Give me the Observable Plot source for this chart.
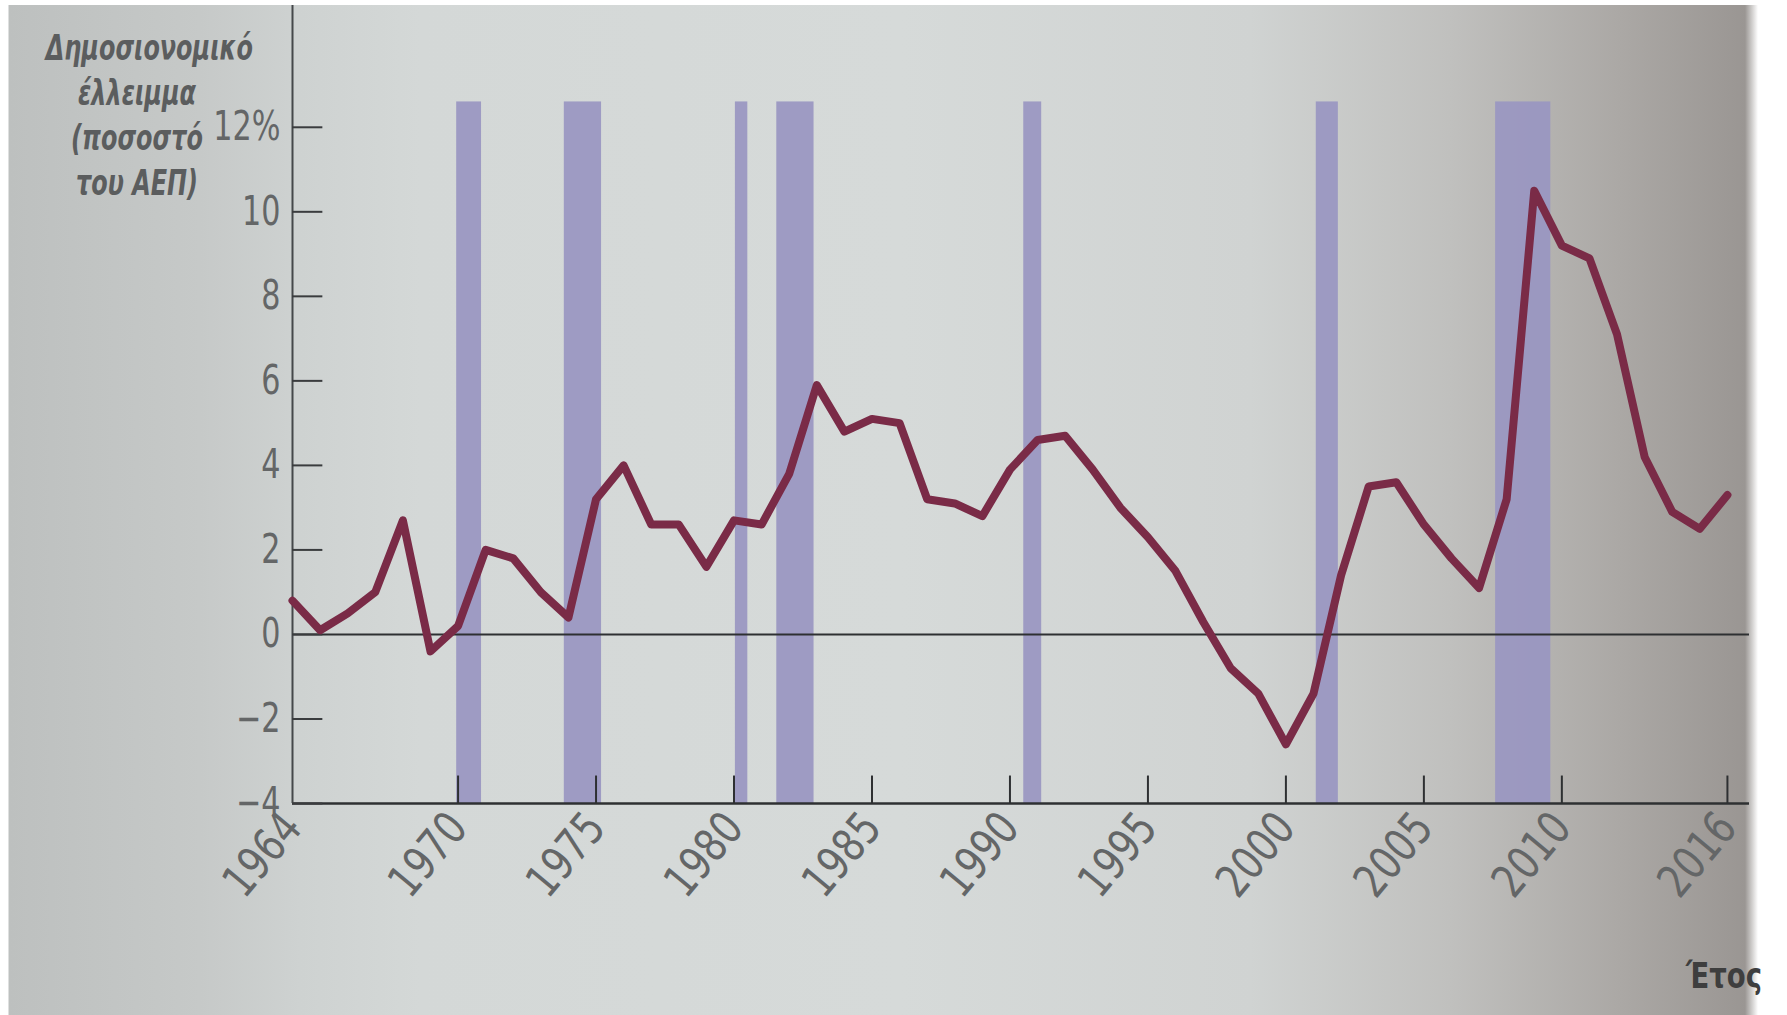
<!DOCTYPE html>
<html>
<head>
<meta charset="utf-8">
<script src="https://cdn.jsdelivr.net/npm/d3@7"></script>
<script src="https://cdn.jsdelivr.net/npm/@observablehq/plot@0.6"></script>
<style>
  html, body { margin: 0; padding: 0; width: 1787px; height: 1015px; overflow: hidden; }
  body {
    position: relative;
    background: linear-gradient(to right,
      #ffffff 0px, #ffffff 8px, #bdc0bf 9px, #c6c9c8 200px, #ced2d1 300px,
      #d4d8d7 420px, #d6dad9 900px, #d0d3d2 1250px, #c0c0be 1450px,
      #aba8a5 1620px, #9a9693 1745px, #ffffff 1758px, #ffffff 1787px);
    font-family: "Liberation Sans Narrow", "DejaVu Sans Condensed", "Roboto Condensed", "Liberation Sans", sans-serif;
  }
  #topstrip { position: absolute; left: 0; top: 0; width: 1787px; height: 5px; background: #ffffff; }
  #chart { position: absolute; left: 0; top: 0; }
  .ytitle {
    position: absolute; left: 17px; top: 26px; width: 240px; text-align: center;
    font-style: italic; font-weight: 700; font-size: 35px; line-height: 45px;
    font-stretch: condensed; color: #5b5d5e;
    transform: scaleX(0.76); transform-origin: 50% 0;
  }
  .xtitle {
    position: absolute; left: 1686px; top: 955px;
    font-weight: 700; font-size: 36px; font-stretch: condensed; color: #3e3e3e;
    transform: scaleX(0.85); transform-origin: 0 0;
  }
</style>
</head>
<body>
<div id="chart"></div>
<div id="topstrip"></div>
<div class="ytitle">Δημοσιονομικό<br>έλλειμμα<br>(ποσοστό<br>του ΑΕΠ)</div>
<div class="xtitle">Έτος</div>
<script>
// ---- data ----
const years = [1964, 1965, 1966, 1967, 1968, 1969, 1970, 1971, 1972, 1973,
  1974, 1975, 1976, 1977, 1978, 1979, 1980, 1981, 1982, 1983,
  1984, 1985, 1986, 1987, 1988, 1989, 1990, 1991, 1992, 1993,
  1994, 1995, 1996, 1997, 1998, 1999, 2000, 2001, 2002, 2003,
  2004, 2005, 2006, 2007, 2008, 2009, 2010, 2011, 2012, 2013,
  2014, 2015, 2016];
const deficit = [0.8, 0.1, 0.5, 1.0, 2.7, -0.4, 0.2, 2.0, 1.8, 1.0,
  0.4, 3.2, 4.0, 2.6, 2.6, 1.6, 2.7, 2.6, 3.8, 5.9,
  4.8, 5.1, 5.0, 3.2, 3.1, 2.8, 3.9, 4.6, 4.7, 3.9,
  3.0, 2.3, 1.5, 0.3, -0.8, -1.4, -2.6, -1.4, 1.4, 3.5,
  3.6, 2.6, 1.8, 1.1, 3.2, 10.5, 9.2, 8.9, 7.1, 4.2,
  2.9, 2.5, 3.3];
// recession periods (shaded bars)
const recessionStart = [1969.95, 1973.85, 1980.05, 1981.55, 1990.5, 2001.1, 2007.6];
const recessionEnd   = [1970.85, 1975.2, 1980.5, 1982.9, 1991.15, 2001.9, 2009.6];
const yTicks = [-4, -2, 0, 2, 4, 6, 8, 10, 12];
const xTicks = [1964, 1970, 1975, 1980, 1985, 1990, 1995, 2000, 2005, 2010, 2016];
const barTop = 12.6;

// ---- tables built from the arrays ----
const series = years.map((year, i) => ({year, value: deficit[i]}));
const recessions = recessionStart.map((start, i) => ({start, end: recessionEnd[i]}));

const FONT = '"Liberation Sans Narrow", "DejaVu Sans Condensed", "Roboto Condensed", "Liberation Sans", sans-serif';

const chart = Plot.plot({
  width: 1787,
  height: 1015,
  marginLeft: 292,
  marginRight: 38,
  marginTop: 0,
  marginBottom: 212,
  style: {background: "transparent", fontFamily: FONT, color: "#646667", overflow: "visible"},
  x: {domain: [1964, 2016.8]},
  y: {domain: [-4, 15]},
  marks: [
    Plot.rect(recessions, {x1: "start", x2: "end", y1: -4, y2: barTop, fill: "#9996c1", fillOpacity: 0.92}),
    Plot.ruleY([0], {stroke: "#2e3032", strokeWidth: 2}),
    Plot.ruleY([-4], {stroke: "#2e3032", strokeWidth: 2.5}),
    Plot.ruleX([1964], {stroke: "#45484a", strokeWidth: 2}),
    Plot.ruleY(yTicks, {x1: 1964, x2: 1965.1, stroke: "#3a3c3e", strokeWidth: 2}),
    Plot.ruleX(xTicks.slice(1), {y1: -4, y2: -3.35, stroke: "#2e3032", strokeWidth: 2}),
    Plot.line(series, {x: "year", y: "value", stroke: "#7a2b47", strokeWidth: 8, strokeLinejoin: "round", strokeLinecap: "round"}),
    Plot.axisY({
      ticks: yTicks, tickSize: 0, tickPadding: 12, label: null, fontSize: 40,
      tickFormat: d => d === 12 ? "12%" : (d < 0 ? "\u2212" + (-d) : String(d))
    }),
    Plot.axisX({
      ticks: xTicks, tickSize: 0, tickPadding: 16, tickRotate: -50, label: null, fontSize: 46,
      tickFormat: d => String(d)
    })
  ]
});
// condense the tick label glyphs like the narrow typeface of the original
chart.querySelectorAll('g[aria-label="y-axis tick label"] text').forEach(t => {
  t.setAttribute("transform", (t.getAttribute("transform") || "") + " scale(0.84,1)");
});
chart.querySelectorAll('g[aria-label="x-axis tick label"] text').forEach(t => {
  t.setAttribute("transform", (t.getAttribute("transform") || "") + " scale(0.88,1)");
});
document.getElementById("chart").appendChild(chart);
</script>
</body>
</html>
